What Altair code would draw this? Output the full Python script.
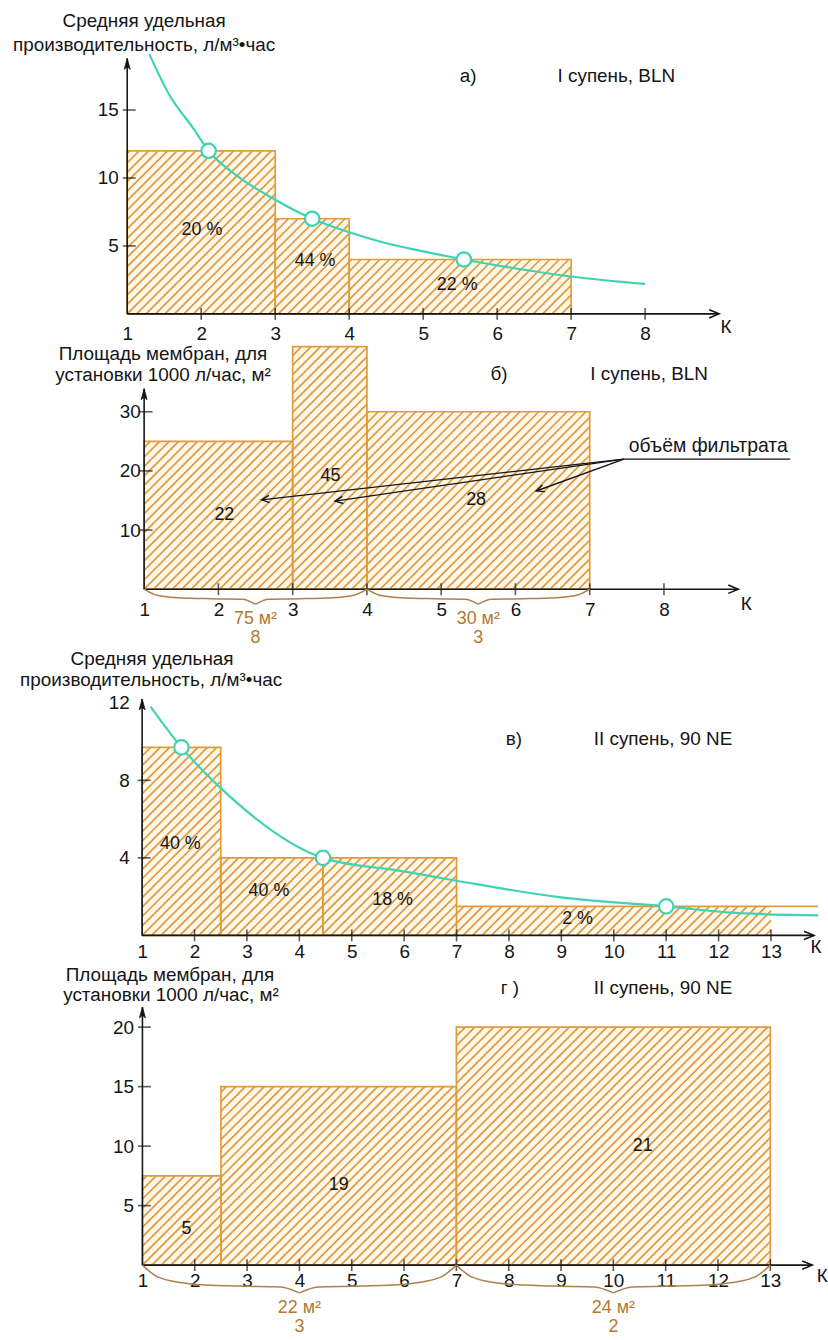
import math
import altair as alt
import pandas as pd

FONT = "Liberation Sans"
INK = "#151515"
ORANGE = "#E39A3B"
HATCH = "#DE9A42"
CREAM = "#FFF7E8"
TEAL = "#3FD3B3"
BROWN = "#B27A2E"
BRACE = "#A9824F"

# ---------------- а) I супень, BLN: средняя удельная производительность ----------------
a_edges = [1, 3, 4, 7]
a_values = [12, 7, 4]
a_share_text = ["20 %", "44 %", "22 %"]
a_share_k = [2.01, 3.54, 5.46]
a_share_v = [6.2, 3.9, 2.1]
a_curve_k = [1.3, 1.56, 1.9, 2.1, 2.5, 3.0, 3.5, 4.0, 4.5, 5.0, 5.55, 6.3, 7.0, 8.0]
a_curve_v = [19.1, 16.2, 13.6, 12.0, 10.1, 8.4, 7.0, 6.0, 5.2, 4.6, 4.0, 3.3, 2.75, 2.2]
a_dot_k = [2.1, 3.5, 5.55]
a_dot_v = [12, 7, 4]
a_xticks = [1, 2, 3, 4, 5, 6, 7, 8]
a_yticks = [5, 10, 15]

# ---------------- б) I супень, BLN: площадь мембран ----------------
b_edges = [1, 3, 4, 7]
b_values = [25, 41, 30]
b_vol_text = ["22", "45", "28"]
b_vol_k = [2.08, 3.51, 5.47]
b_vol_v = [12.6, 19.1, 15.1]
b_xticks = [1, 2, 3, 4, 5, 6, 7, 8]
b_yticks = [10, 20, 30]
b_brace_from = [1, 4]
b_brace_to = [4, 7]
b_brace_area = ["75 м²", "30 м²"]
b_brace_count = ["8", "3"]
b_note = "объём фильтрата"
b_note_k = [7.46, 9.7]
b_note_v = 22.0
b_arrow_k = [2.58, 3.57, 6.28]
b_arrow_v = [15.1, 14.9, 16.6]

# ---------------- в) II супень, 90 NE: средняя удельная производительность ----------------
c_edges = [1, 2.5, 4.45, 7, 13]
c_values = [9.7, 4, 4, 1.5]
c_share_text = ["40 %", "40 %", "18 %", "2 %"]
c_share_k = [1.73, 3.42, 5.78, 9.31]
c_share_v = [4.7, 2.3, 1.8, 0.86]
c_curve_k = [1.16, 1.75, 2.5, 4.45, 5.93, 7.0, 9.0, 11.0, 12.17, 13.9]
c_curve_v = [11.8, 9.7, 7.6, 4.0, 3.33, 2.82, 1.96, 1.5, 1.19, 1.03]
c_dot_k = [1.75, 4.45, 11.0]
c_dot_v = [9.7, 4, 1.5]
c_xticks = list(range(1, 14))
c_yticks = [4, 8, 12]
c_ymarks = [4, 8]

# ---------------- г) II супень, 90 NE: площадь мембран ----------------
d_edges = [1, 2.5, 7, 13]
d_values = [7.5, 15, 20]
d_vol_text = ["5", "19", "21"]
d_vol_k = [1.84, 4.75, 10.56]
d_vol_v = [3.07, 6.74, 10.0]
d_xticks = list(range(1, 14))
d_yticks = [5, 10, 15, 20]
d_brace_from = [1, 7]
d_brace_to = [7, 13]
d_brace_area = ["22 м²", "24 м²"]
d_brace_count = ["3", "2"]

WIDTH = 828
TICK_FONT = 19

# panel layout: pixel origin of K=1 / value 0 and pixels per unit
GEOM = {
    "a": dict(height=340, x0=128, ux=74.43, y0=311.7, uy=13.67, k_end=9.0, v_end=18.8,
              xpad=11, ypad=9, xticks=a_xticks, yticks=a_yticks, ymarks=a_yticks, kdx=3, kdy=13),
    "b": dict(height=305, x0=145, ux=74.71, y0=246.7, uy=5.95, k_end=9.0, v_end=33.9,
              xpad=11, ypad=4, xticks=b_xticks, yticks=b_yticks, ymarks=b_yticks, kdx=4, kdy=15),
    "c": dict(height=320, x0=143, ux=52.72, y0=290, uy=19.5, k_end=13.82, v_end=12.2,
              xpad=7, ypad=13, xticks=c_xticks, yticks=c_yticks, ymarks=c_ymarks, kdx=-2, kdy=12),
    "d": dict(height=375, x0=143.3, ux=52.64, y0=301.7, uy=11.97, k_end=13.8, v_end=21.7,
              xpad=7, ypad=9, xticks=d_xticks, yticks=d_yticks, ymarks=d_yticks, kdx=6, kdy=11),
}

HATCH_STEP = 9.5  # horizontal distance between hatch lines, px


def xenc(g, field="k"):
    return alt.X(
        f"{field}:Q",
        scale=alt.Scale(domain=[1, g["k_end"]],
                        range=[g["x0"], g["x0"] + (g["k_end"] - 1) * g["ux"]],
                        nice=False, zero=False),
        axis=alt.Axis(values=g["xticks"], title=None, domain=False, ticks=False, tickSize=0,
                      grid=False, labelFont=FONT, labelFontSize=TICK_FONT, labelColor=INK,
                      labelPadding=g["xpad"], offset=g["y0"] - g["height"],
                      labelFlush=False, labelOverlap=False, minExtent=0),
    )


def yenc(g, field="v"):
    top = g["v_end"]
    return alt.Y(
        f"{field}:Q",
        scale=alt.Scale(domain=[0, top], range=[g["y0"], g["y0"] - top * g["uy"]],
                        nice=False, zero=False),
        axis=alt.Axis(values=g["yticks"], title=None, domain=False, ticks=False, tickSize=0,
                      grid=False, labelFont=FONT, labelFontSize=TICK_FONT, labelColor=INK,
                      labelPadding=g["ypad"], offset=-g["x0"], labelFlush=False,
                      labelOverlap=False, minExtent=0),
    )


def hatch_rows(g, edges, values):
    rows = []
    ux, uy = g["ux"], g["uy"]
    for k0, k1, v in zip(edges[:-1], edges[1:], values):
        xa, xb, h = (k0 - 1) * ux, (k1 - 1) * ux, v * uy
        n0 = math.ceil(-xb / HATCH_STEP)
        n1 = math.floor((h - xa) / HATCH_STEP)
        for n in range(n0, n1 + 1):
            d = n * HATCH_STEP
            s, e = max(xa, -d), min(xb, h - d)
            if e - s < 0.5:
                continue
            rows.append(dict(k=1 + s / ux, v=(s + d) / uy, k2=1 + e / ux, v2=(e + d) / uy))
    return pd.DataFrame(rows)


BRACE_SHAPE = [(0.0, 0.0), (0.05, 0.55), (0.15, 0.85), (0.3, 0.96), (0.44, 1.0)]


def brace_rows(g, starts, ends, depth, tip):
    rows = []
    for i, (k0, k1) in enumerate(zip(starts, ends)):
        w, mid = k1 - k0, (k0 + k1) / 2
        for part, sign, base in (("l", 1, k0), ("r", -1, k1)):
            for t, f in BRACE_SHAPE:
                rows.append(dict(b=f"{i}{part}", k=base + sign * t * w, v=-f * depth / g["uy"]))
            rows.append(dict(b=f"{i}{part}", k=mid, v=-tip / g["uy"]))
    return pd.DataFrame(rows)


def text_at(txt, px, py, size=19, align="center", color=INK):
    return alt.Chart(pd.DataFrame({"t": [txt]})).mark_text(
        font=FONT, fontSize=size, align=align, baseline="middle", color=color
    ).encode(x=alt.value(px), y=alt.value(py), text="t:N")


def panel(g, edges, values, labels, curve=None, dots=None, braces=None, titles=(),
          outline_n=None, extend_last=False, extra=()):
    bars = pd.DataFrame({"k": edges[:-1], "k2": edges[1:], "v0": 0, "v": values})
    n = len(values) if outline_n is None else outline_n
    layers = [
        alt.Chart(bars).mark_rect(fill=CREAM, strokeWidth=0).encode(
            x=xenc(g), x2="k2", y=yenc(g, "v0"), y2="v"),
        alt.Chart(hatch_rows(g, edges, values)).mark_rule(color=HATCH, strokeWidth=1.7).encode(
            x=xenc(g), y=yenc(g), x2="k2", y2="v2"),
        alt.Chart(bars.iloc[:n]).mark_rect(fill="white", fillOpacity=0, stroke=ORANGE,
                                           strokeWidth=1.7).encode(
            x=xenc(g), x2="k2", y=yenc(g, "v0"), y2="v"),
    ]
    if extend_last:
        top = pd.DataFrame({"k": [edges[-2]], "k2": [g["k_end"] + 0.08], "v": [values[-1]]})
        layers.append(alt.Chart(top).mark_rule(color=ORANGE, strokeWidth=1.7).encode(
            x=xenc(g), x2="k2", y=yenc(g)))

    # axes with arrows and crossing ticks
    xaxis = pd.DataFrame({"k": [1], "k2": [g["k_end"]], "v": [0]})
    yaxis = pd.DataFrame({"k": [1], "v": [0], "v2": [g["v_end"]]})
    layers += [
        alt.Chart(xaxis).mark_rule(color=INK, strokeWidth=1.6).encode(
            x=xenc(g), x2="k2", y=yenc(g)),
        alt.Chart(yaxis).mark_rule(color=INK, strokeWidth=1.6).encode(
            x=xenc(g), y=yenc(g), y2="v2"),
        alt.Chart(pd.DataFrame({"k": [t for t in g["xticks"] if t > 1], "v": 0})).mark_tick(
            orient="vertical", size=12, thickness=1.6, color=INK).encode(x=xenc(g), y=yenc(g)),
        alt.Chart(pd.DataFrame({"k": 1, "v": g["ymarks"]})).mark_tick(
            orient="horizontal", size=13, thickness=1.6, color=INK, xOffset=2).encode(
            x=xenc(g), y=yenc(g)),
        alt.Chart(pd.DataFrame({"k": [g["k_end"]], "v": [0]})).mark_point(
            shape="M-1,-0.42L0,0L-1,0.42", size=400, filled=False, stroke=INK,
            strokeWidth=1.6, opacity=1).encode(x=xenc(g), y=yenc(g)),
        alt.Chart(pd.DataFrame({"k": [1], "v": [g["v_end"]]})).mark_point(
            shape="M0,0L0.3,1.1L0,0.85L-0.3,1.1Z", size=400, filled=True, fill=INK,
            stroke=INK, strokeWidth=0.8, opacity=1).encode(x=xenc(g), y=yenc(g)),
        alt.Chart(pd.DataFrame({"k": [g["k_end"]], "v": [0], "t": ["К"]})).mark_text(
            font=FONT, fontSize=19, color=INK, dx=g["kdx"] + 4, dy=g["kdy"]).encode(
            x=xenc(g), y=yenc(g), text="t:N"),
    ]

    if curve is not None:
        layers.append(alt.Chart(pd.DataFrame({"k": curve[0], "v": curve[1]})).mark_line(
            interpolate="monotone", color=TEAL, strokeWidth=2.2).encode(x=xenc(g), y=yenc(g)))
    if dots is not None:
        layers.append(alt.Chart(pd.DataFrame({"k": dots[0], "v": dots[1]})).mark_point(
            shape="circle", size=210, filled=True, fill="white", stroke=TEAL,
            strokeWidth=2.2, opacity=1).encode(x=xenc(g), y=yenc(g)))

    layers.append(alt.Chart(pd.DataFrame({"k": labels[1], "v": labels[2], "t": labels[0]})).mark_text(
        font=FONT, fontSize=18, color=INK).encode(x=xenc(g), y=yenc(g), text="t:N"))

    if braces is not None:
        starts, ends, area, count, depth, tip = braces
        layers.append(alt.Chart(brace_rows(g, starts, ends, depth, tip)).mark_line(
            interpolate="monotone", color=BRACE, strokeWidth=1.5).encode(
            x=xenc(g), y=yenc(g), detail="b:N"))
        mids = [(a + b) / 2 for a, b in zip(starts, ends)]
        lab = pd.DataFrame({"k": mids, "v": -tip / g["uy"], "a": area, "c": count})
        layers += [
            alt.Chart(lab).mark_text(font=FONT, fontSize=18, color=BROWN, dy=15).encode(
                x=xenc(g), y=yenc(g), text="a:N"),
            alt.Chart(lab).mark_text(font=FONT, fontSize=18, color=BROWN, dy=34).encode(
                x=xenc(g), y=yenc(g), text="c:N"),
        ]

    layers += list(extra)
    layers += [text_at(*t) for t in titles]
    return alt.layer(*layers).properties(width=WIDTH, height=g["height"])


ga, gb, gc, gd = GEOM["a"], GEOM["b"], GEOM["c"], GEOM["d"]

# а)
pa = panel(
    ga, a_edges, a_values, (a_share_text, a_share_k, a_share_v),
    curve=(a_curve_k, a_curve_v), dots=(a_dot_k, a_dot_v),
    titles=[("Средняя удельная", 145, 16.7), ("производительность, л/м³•час", 145, 41.7),
            ("а)", 471, 72), ("I супень, BLN", 620, 72)],
)

# б) — подпись «объём фильтрата» со стрелками
origin_k, origin_v = b_note_k[0], b_note_v
arrows = pd.DataFrame({"k": origin_k, "v": origin_v, "k2": b_arrow_k, "v2": b_arrow_v})
arrows["ang"] = [
    math.degrees(math.atan2(-(v2 - origin_v) * gb["uy"], (k2 - origin_k) * gb["ux"])) % 360
    for k2, v2 in zip(b_arrow_k, b_arrow_v)
]
note_layers = [
    alt.Chart(arrows).mark_rule(color=INK, strokeWidth=1.4).encode(
        x=xenc(gb), y=yenc(gb), x2="k2", y2="v2"),
    alt.Chart(arrows).mark_point(shape="M-1,-0.45L0,0L-1,0.45", size=256, filled=False,
                                 stroke=INK, strokeWidth=1.4, opacity=1).encode(
        x=xenc(gb, "k2"), y=yenc(gb, "v2"), angle=alt.Angle("ang:Q", scale=None)),
    alt.Chart(pd.DataFrame({"k": [b_note_k[0]], "k2": [b_note_k[1]], "v": [b_note_v]})).mark_rule(
        color=INK, strokeWidth=1.4).encode(x=xenc(gb), x2="k2", y=yenc(gb)),
    alt.Chart(pd.DataFrame({"k": [b_note_k[0]], "v": [b_note_v], "t": [b_note]})).mark_text(
        font=FONT, fontSize=19.5, color=INK, align="left", baseline="bottom", dx=5, dy=-3).encode(
        x=xenc(gb), y=yenc(gb), text="t:N"),
]
pb = panel(
    gb, b_edges, b_values, (b_vol_text, b_vol_k, b_vol_v),
    braces=(b_brace_from, b_brace_to, b_brace_area, b_brace_count, 10, 15),
    titles=[("Площадь мембран, для", 164, 10), ("установки 1000 л/час, м²", 164, 31.7),
            ("б)", 502, 30), ("I супень, BLN", 653, 30)],
    extra=note_layers,
)

# в)
pc = panel(
    gc, c_edges, c_values, (c_share_text, c_share_k, c_share_v),
    curve=(c_curve_k, c_curve_v), dots=(c_dot_k, c_dot_v),
    outline_n=len(c_values) - 1, extend_last=True,
    titles=[("Средняя удельная", 153, 12), ("производительность, л/м³•час", 152, 33),
            ("в)", 517, 92), ("II супень, 90 NE", 667, 92)],
)

# г)
pd_ = panel(
    gd, d_edges, d_values, (d_vol_text, d_vol_k, d_vol_v),
    braces=(d_brace_from, d_brace_to, d_brace_area, d_brace_count, 22, 28),
    titles=[("Площадь мембран, для", 171, 10), ("установки 1000 л/час, м²", 172, 30),
            ("г )", 513, 23), ("II супень, 90 NE", 667, 23)],
)

chart = alt.vconcat(pa, pb, pc, pd_, spacing=0).properties(
    padding=0, background="white"
).configure_view(stroke=None)

chart.save("out.html", embed_options={"renderer": "svg", "actions": False})
